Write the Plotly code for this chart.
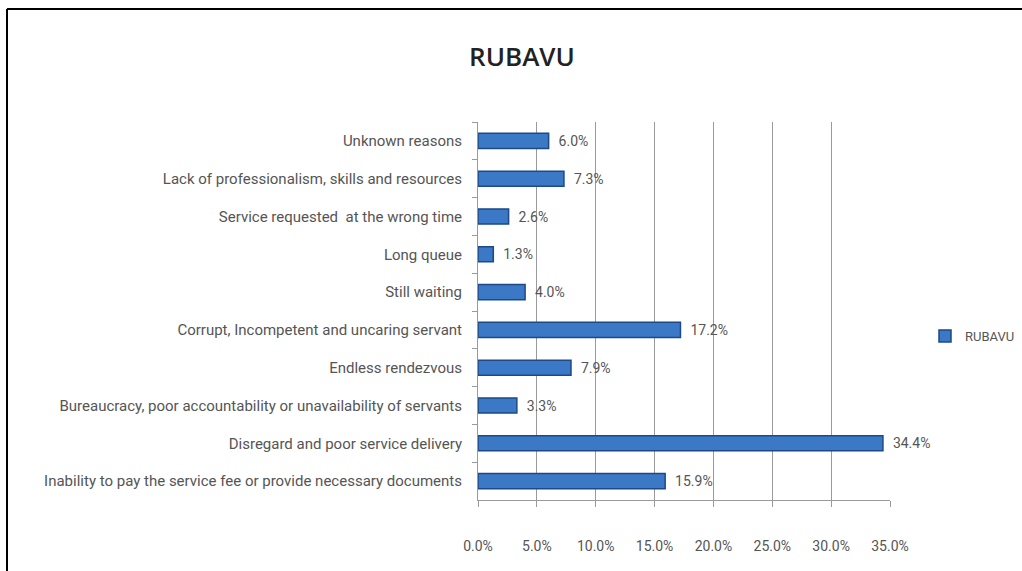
import plotly.graph_objects as go

# categories top to bottom, as in the picture
reasons = [
    "Unknown reasons",
    "Lack of professionalism, skills and resources",
    "Service requested  at the wrong time",
    "Long queue",
    "Still waiting",
    "Corrupt, Incompetent and uncaring servant",
    "Endless rendezvous",
    "Bureaucracy, poor accountability or unavailability of servants",
    "Disregard and poor service delivery",
    "Inability to pay the service fee or provide necessary documents",
]
share = [0.060, 0.073, 0.026, 0.013, 0.040, 0.172, 0.079, 0.033, 0.344, 0.159]
x_ticks = [0, 0.05, 0.10, 0.15, 0.20, 0.25, 0.30, 0.35]

FONT = "Roboto, Open Sans, sans-serif"
GREY = "#555555"

W, H = 1022, 571
L, R, T, B = 478, 132, 122, 71
pw, ph = W - L - R, H - T - B


def px_x(p):
    return (p - L) / pw


def px_y(p):
    return (H - B - p) / ph


fig = go.Figure()
fig.add_trace(go.Bar(
    y=reasons,
    x=share,
    orientation="h",
    name="RUBAVU",
    width=0.4,
    marker=dict(color="#3b78c6", line=dict(color="#1d4a86", width=1.5)),
    texttemplate="  %{x:.1%}",
    textposition="outside",
    constraintext="none",
    textfont=dict(family=FONT, size=14, color=GREY),
    cliponaxis=False,
))

fig.update_layout(
    width=W, height=H,
    margin=dict(l=L, r=R, t=T, b=B, autoexpand=False),
    paper_bgcolor="white",
    plot_bgcolor="white",
    font=dict(family=FONT, color=GREY),
    title=dict(text="RUBAVU", xref="container", x=522 / W, xanchor="center",
               yref="container", y=1 - 57 / H, yanchor="middle",
               font=dict(family="Open Sans, sans-serif", size=26, weight=600,
                         color="#222222")),
    showlegend=True,
    legend=dict(x=px_x(925), y=px_y(336), xanchor="left", yanchor="middle",
                font=dict(family=FONT, size=13, color=GREY),
                itemwidth=30, bgcolor="rgba(0,0,0,0)"),
    bargap=0.6,
)

fig.update_xaxes(
    range=[0, 0.35],
    tickvals=x_ticks,
    tickformat=".1%",
    showgrid=True, gridcolor="#9a9a9a", gridwidth=1,
    showline=True, linecolor="#9a9a9a",
    ticks="outside", ticklen=6, tickcolor="#9a9a9a",
    ticklabelstandoff=27,
    tickfont=dict(family=FONT, size=14, color=GREY),
    zeroline=False,
)
fig.update_yaxes(
    categoryorder="array", categoryarray=reasons, autorange="reversed",
    showline=True, linecolor="#9a9a9a",
    ticks="outside", ticklen=5, tickcolor="#9a9a9a",
    tickson="boundaries",
    ticklabelstandoff=12,
    tickfont=dict(family=FONT, size=15, color=GREY),
    showgrid=False,
)

# outer frame (top and left edges visible in the crop)
fig.add_shape(type="line", xref="paper", yref="paper",
              x0=px_x(7), x1=px_x(1030), y0=px_y(9), y1=px_y(9),
              line=dict(color="black", width=2))
fig.add_shape(type="line", xref="paper", yref="paper",
              x0=px_x(7), x1=px_x(7), y0=px_y(9), y1=px_y(580),
              line=dict(color="black", width=2))

# drop the default page margin so the figure sits at the window's corner
fig.write_html("out.html", config={"displayModeBar": False},
               post_script="document.body.style.margin='0';")
